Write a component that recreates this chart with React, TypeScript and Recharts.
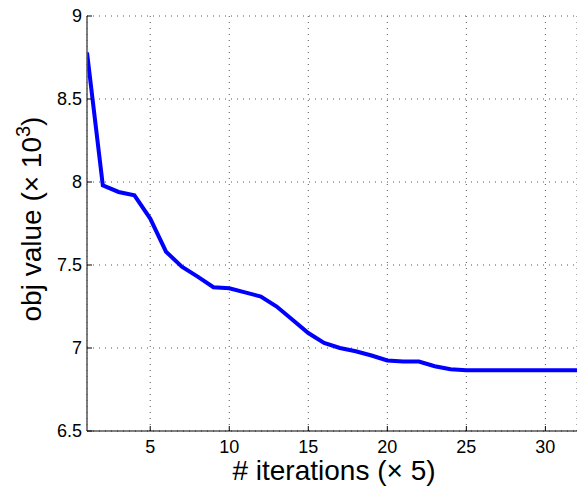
import React from 'react';
import { LineChart, Line, XAxis, YAxis, CartesianGrid } from 'recharts';

const iterations = [1,2,3,4,5,6,7,8,9,10,11,12,13,14,15,16,17,18,19,20,21,22,23,24,25,26,27,28,29,30,31,32];
const objValues = [8.78,7.98,7.94,7.92,7.78,7.58,7.49,7.43,7.366,7.36,7.335,7.31,7.25,7.17,7.09,7.03,7.0,6.98,6.955,6.925,6.918,6.918,6.89,6.872,6.866,6.866,6.866,6.866,6.866,6.866,6.866,6.866];
const xTicks = [5,10,15,20,25,30];
const yTicks = [6.5,7,7.5,8,8.5,9];
const xLabel = '# iterations (\u00d7 5)';
const yLabelMain = 'obj value (\u00d7 10';
const yLabelSup = '3';
const yLabelEnd = ')';

const data = iterations.map((x, i) => ({ x, y: objValues[i] }));

const FONT = 'Liberation Sans, Arial, Helvetica, sans-serif';

const XTick = (props: any) => {
  const { x, y, payload } = props;
  return (
    <g>
      <line x1={x} y1={y} x2={x} y2={y - 5} stroke="#000" strokeWidth={1} />
      <text x={x} y={y + 22} textAnchor="middle" fontFamily={FONT} fontSize={18} fill="#000">{payload.value}</text>
    </g>
  );
};

const YTick = (props: any) => {
  const { x, y, payload } = props;
  return (
    <g>
      <line x1={x} y1={y} x2={x + 5} y2={y} stroke="#000" strokeWidth={1} />
      <text x={x - 5} y={y + 6} textAnchor="end" fontFamily={FONT} fontSize={18} fill="#000">{payload.value}</text>
    </g>
  );
};

export default function App() {
  return (
    <div style={{ position: 'absolute', left: 0, top: 0, width: 577, height: 486, background: '#fff' }}>
      <LineChart width={577} height={486} data={data} margin={{ top: 16, right: 0, bottom: 0, left: 0 }}>
        <CartesianGrid stroke="#555" strokeDasharray="1 5" vertical horizontal />
        <XAxis
          dataKey="x"
          type="number"
          domain={[1, 32]}
          ticks={xTicks}
          height={55}
          tickSize={0}
          tickMargin={0}
          tick={<XTick />}
          axisLine={{ stroke: '#000', strokeWidth: 1 }}
          tickLine={false}
          allowDataOverflow
        />
        <YAxis
          type="number"
          domain={[6.5, 9]}
          ticks={yTicks}
          width={87}
          tickSize={0}
          tickMargin={0}
          tick={<YTick />}
          axisLine={{ stroke: '#555', strokeWidth: 1.5 }}
          tickLine={false}
          allowDataOverflow
        />
        <Line
          type="linear"
          dataKey="y"
          stroke="#0000ff"
          strokeWidth={4}
          dot={false}
          isAnimationActive={false}
        />
      </LineChart>
      <svg width={577} height={486} style={{ position: 'absolute', left: 0, top: 0, pointerEvents: 'none' }}>
        <text x={334} y={480} textAnchor="middle" fontFamily={FONT} fontSize={28} fill="#000">{xLabel}</text>
        <text transform="translate(41, 219) rotate(-90)" textAnchor="middle" fontFamily={FONT} fontSize={28} fill="#000">
          {yLabelMain}
          <tspan fontSize={20} dy={-11}>{yLabelSup}</tspan>
          <tspan dy={11}>{yLabelEnd}</tspan>
        </text>
      </svg>
    </div>
  );
}
